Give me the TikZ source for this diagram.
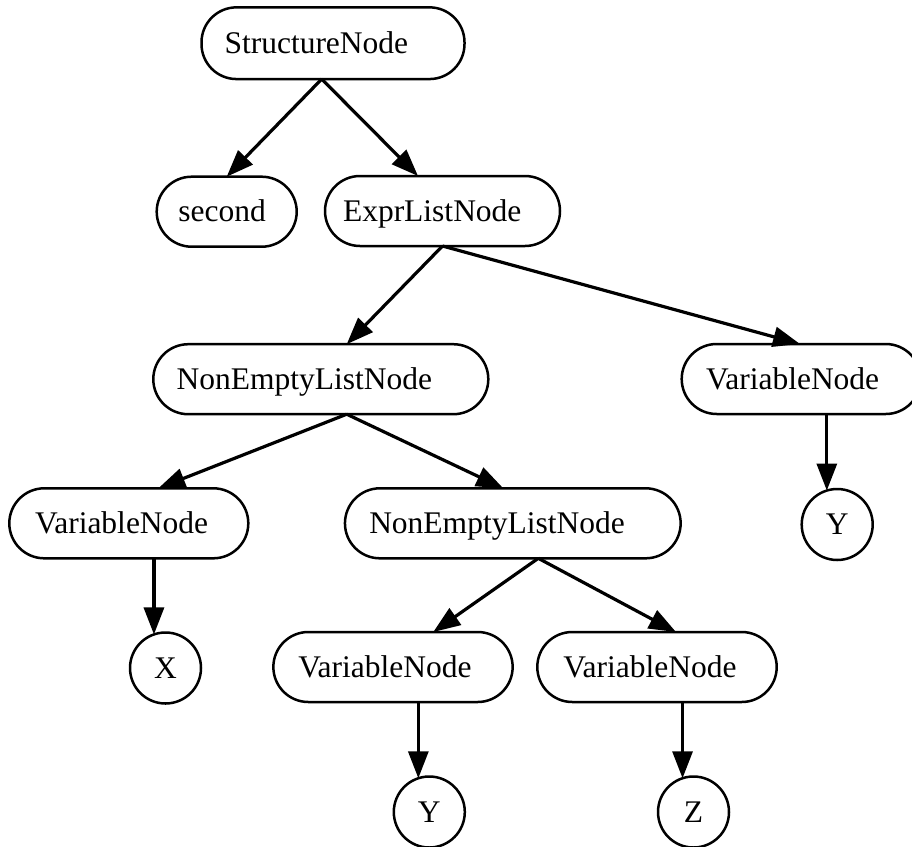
\documentclass[tikz,border=0pt]{standalone}
\usepackage{fontspec}
\setmainfont{Liberation Serif}
\usetikzlibrary{arrows.meta,calc}

\tikzset{
  pill/.style={draw, line width=2.5pt, rounded corners=35pt,
    minimum height=70pt, inner ysep=0pt, outer sep=0pt, align=left,
    text height=20.5pt, text depth=0pt},
  leaf/.style={draw, circle, line width=2.5pt, minimum size=71pt,
    inner sep=0pt, outer sep=0pt, text height=20.5pt, text depth=0pt},
  edge/.style={line width=3.2pt, -{Triangle[length=27pt,width=20pt]}},
}

\begin{document}
\begin{tikzpicture}[x=1pt, y=-1pt, font=\fontsize{31.5}{36}\selectfont]
  \useasboundingbox (0,0) rectangle (912,846);

  % tree nodes (text width + 2*inner xsep = box width)
  \node[pill, minimum height=71.7pt, text width=217pt, inner xsep=23pt] (sn) at (333,43.2) {StructureNode};
  \node[pill, text width=96.8pt, inner xsep=21.6pt] (se) at (226.7,211.7) {second};
  \node[pill, text width=199pt, inner xsep=18pt] (el) at (442.5,211) {ExprListNode};
  \node[pill, text width=288.2pt, inner xsep=23.4pt] (n1) at (320.8,379.2) {NonEmptyListNode};
  \node[pill, text width=190.4pt, inner xsep=24.3pt] (vr) at (801.2,379) {VariableNode};
  \node[pill, text width=187.6pt, inner xsep=25.7pt] (vl) at (128.8,523.3) {VariableNode};
  \node[pill, text width=287.1pt, inner xsep=24.3pt] (n2) at (512.8,523.3) {NonEmptyListNode};
  \node[pill, text width=189.3pt, inner xsep=25pt] (vb1) at (393,667) {VariableNode};
  \node[pill, text width=187.4pt, inner xsep=26pt] (vb2) at (657,667) {VariableNode};

  % leaves
  \node[leaf] (yr) at (837.2,524.5) {Y};
  \node[leaf] (x)  at (165.5,668) {X};
  \node[leaf] (yb) at (429.3,812) {Y};
  \node[leaf] (z)  at (693.5,812) {Z};

  % connectors
  \draw[edge] ($(sn.south)+(-11.3,0)$) -- (se.north);
  \draw[edge] ($(sn.south)+(-11.3,0)$) -- ($(el.north)+(-24.5,0)$);
  \draw[edge] (el.south) -- ($(n1.north)+(25.9,0)$);
  \draw[edge] (el.south) -- ($(vr.north)+(-1.2,0)$);
  \draw[edge] ($(n1.south)+(25.9,0)$) -- ($(vl.north)+(29.5,0)$);
  \draw[edge] ($(n1.south)+(25.9,0)$) -- ($(n2.north)+(-9.5,0)$);
  \draw[edge] (vr.south -| yr.107) -- (yr.107);
  \draw[edge] (vl.south -| x.109) -- (x.109);
  \draw[edge] ($(n2.south)+(25.5,0)$) -- ($(vb1.north)+(40.3,0)$);
  \draw[edge] ($(n2.south)+(25.5,0)$) -- ($(vb2.north)+(19,0)$);
  \draw[edge] (vb1.south -| yb.108) -- (yb.108);
  \draw[edge] (vb2.south -| z.108) -- (z.108);
\end{tikzpicture}
\end{document}
